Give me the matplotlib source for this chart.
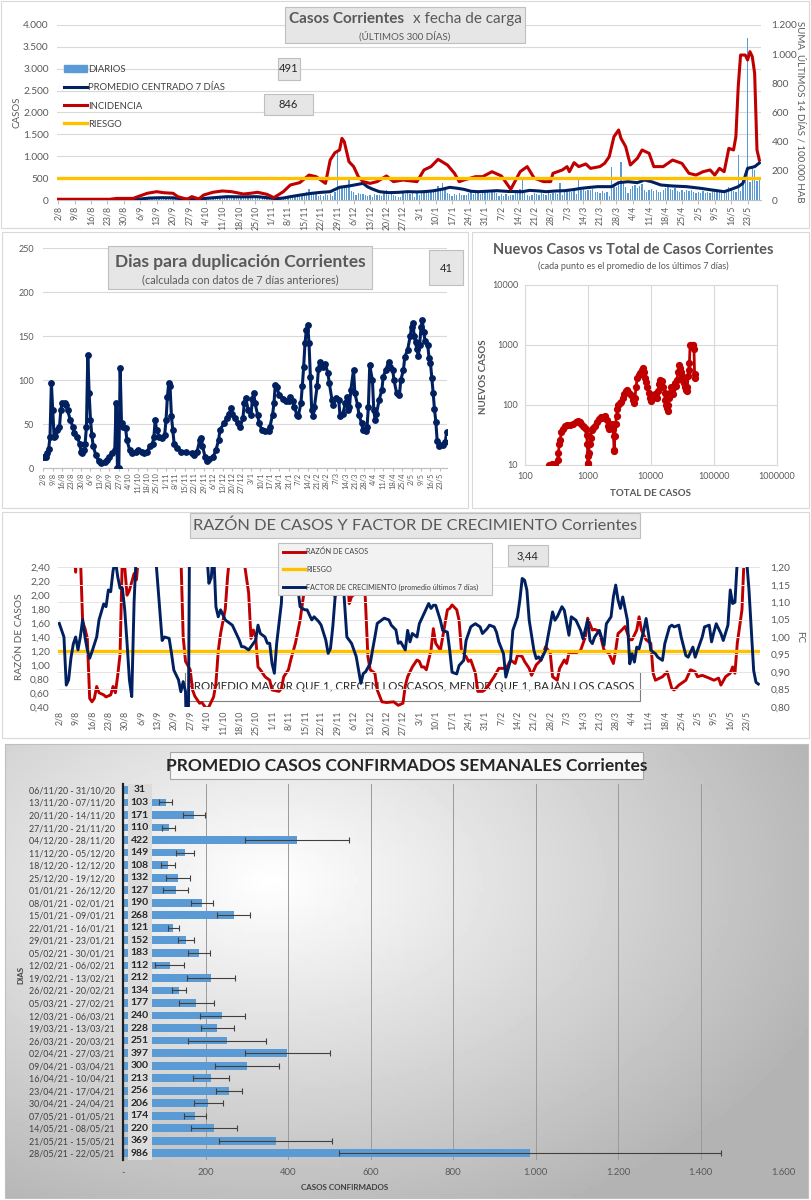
import matplotlib
matplotlib.use("Agg")
import matplotlib.pyplot as plt
import numpy as np
from matplotlib.patches import Rectangle, Patch
from matplotlib.ticker import FuncFormatter

plt.rcParams["font.family"] = ["Lato", "DejaVu Sans"]

W, H = 811, 1200
TXT = "#595959"
ROJO = "#C00000"
AZUL = "#002060"
AMARILLO = "#FFC000"
CELESTE = "#5B9BD5"
GRILLA = "#D9D9D9"

# ---- fechas de eje (una por semana desde 2/8/2020) ----
fechas = ["2/8", "9/8", "16/8", "23/8", "30/8", "6/9", "13/9", "20/9", "27/9",
          "4/10", "11/10", "18/10", "25/10", "1/11", "8/11", "15/11", "22/11",
          "29/11", "6/12", "13/12", "20/12", "27/12", "3/1", "10/1", "17/1",
          "24/1", "31/1", "7/2", "14/2", "21/2", "28/2", "7/3", "14/3", "21/3",
          "28/3", "4/4", "11/4", "18/4", "25/4", "2/5", "9/5", "16/5", "23/5"]

# ---- casos diarios (2/8/2020 .. 28/5/2021) ----
diarios = [0, 1, 0, 2, 0, 0, 1, 0, 0, 1, 0, 2, 1, 0, 1, 0, 0, 3, 2, 1, 0,
           2, 1, 4, 3, 2, 5, 1, 3, 6, 2, 4, 8, 3, 5,
           25, 40, 35, 60, 45, 38, 52, 30, 48, 55, 42, 28, 36, 22,
           18, 25, 12, 8, 15, 10, 6, 12, 20, 14, 30, 25, 18, 35,
           45, 60, 52, 70, 48, 82, 65, 58, 75, 90, 62, 55, 72, 68,
           80, 64, 55, 70, 48, 62, 58, 50, 66, 45, 52, 40, 38,
           22, 18, 35, 28, 40, 30, 44,
           80, 95, 110, 70, 125, 130, 111,
           140, 150, 190, 245, 160, 180, 132,
           95, 120, 85, 140, 105, 130, 95,
           180, 1080, 260, 290, 330, 320, 494,
           210, 180, 120, 150, 130, 145, 108,
           95, 120, 80, 130, 110, 125, 96,
           150, 240, 110, 140, 125, 95, 64,
           80, 150, 140, 165, 130, 160, 64,
           150, 120, 210, 230, 185, 240, 195,
           260, 220, 310, 280, 396, 250, 160,
           140, 90, 130, 110, 150, 115, 112,
           120, 160, 180, 140, 175, 150, 139,
           160, 210, 190, 170, 220, 180, 151,
           90, 130, 100, 140, 95, 120, 109,
           180, 230, 250, 472, 150, 120, 82,
           120, 150, 140, 110, 165, 130, 123,
           150, 140, 160, 170, 130, 381, 108,
           200, 230, 210, 190, 215, 140, 495,
           220, 250, 210, 240, 230, 260, 186,
           190, 160, 210, 150, 190, 97, 760,
           350, 300, 420, 876, 380, 300, 153,
           250, 310, 340, 280, 330, 360, 230,
           180, 240, 260, 200, 230, 190, 191,
           230, 280, 300, 260, 240, 270, 212,
           190, 230, 180, 240, 210, 220, 172,
           150, 190, 160, 200, 170, 180, 168,
           200, 250, 190, 230, 240, 210, 220,
           300, 250, 200, 180, 1028, 200, 425,
           450, 3700, 420, 724, 686, 431, 491]

# promedio centrado 7 dias (dia desde 2/8, casos)
prom_dia = [0, 20, 30, 35, 39, 44, 49, 53, 57, 60, 63, 68, 72, 78, 85, 89, 93, 96,
            99, 104, 108, 112, 116, 118, 120, 124, 128, 130, 132, 134, 137, 141,
            145, 149, 153, 156, 160, 164, 167, 170, 173, 176, 179, 183, 187, 192,
            198, 201, 205, 208, 212, 216, 220, 223, 227, 230, 236, 239, 243, 247,
            250, 253, 257, 262, 268, 274, 278, 281, 284, 287, 290, 292, 294, 297, 299]
prom_val = [0, 3, 8, 23, 45, 53, 50, 25, 15, 20, 38, 60, 76, 72, 76, 53, 30, 45,
            76, 120, 152, 175, 190, 240, 290, 320, 360, 381, 300, 250, 190, 168,
            175, 190, 185, 190, 210, 250, 290, 270, 244, 200, 190, 200, 213, 195,
            190, 220, 206, 190, 205, 213, 240, 267, 290, 305, 305, 396, 419, 396,
            457, 419, 343, 320, 305, 267, 235, 213, 190, 244, 305, 381, 724, 762, 846]

# incidencia: suma ultimos 14 dias / 100.000 hab
inc_dia = [0, 22, 25, 32, 34, 38, 42, 45, 49, 51, 55, 57, 60, 62, 66, 70, 74, 79,
           82, 85, 89, 92, 96, 99, 103, 107, 110, 114, 116, 118, 120, 121, 122,
           124, 126, 128, 130, 133, 136, 140, 143, 147, 153, 156, 159, 162, 166,
           169, 171, 174, 178, 181, 185, 189, 193, 197, 200, 203, 207, 210, 211,
           215, 217, 218, 220, 222, 225, 227, 231, 233, 235, 237, 239, 240, 242,
           244, 247, 249, 252, 254, 258, 262, 266, 269, 272, 275, 278, 280, 282,
           284, 286, 288, 289, 290, 291, 293, 294, 295, 296, 297, 298, 299]
inc_val = [5, 5, 11, 11, 23, 46, 57, 50, 46, 23, 5, 23, 7, 34, 53, 62, 57, 41,
           46, 53, 39, 16, 57, 103, 119, 171, 160, 114, 274, 324, 343, 423, 400,
           263, 229, 160, 126, 114, 126, 165, 126, 137, 126, 206, 229, 279, 240,
           183, 126, 142, 160, 160, 194, 165, 73, 194, 229, 150, 126, 126, 183,
           206, 229, 194, 256, 229, 247, 217, 229, 251, 297, 434, 480, 423, 366,
           240, 286, 343, 320, 229, 229, 274, 251, 183, 171, 194, 206, 171, 217,
           194, 354, 343, 434, 777, 994, 994, 960, 1017, 983, 869, 343, 274]
riesgo_inc = 150

# dias para duplicacion
dup_dia = [0, 1, 2, 3, 4, 5, 6, 7, 8, 9, 10, 12, 13, 14, 16, 17, 18, 20, 22, 23, 25,
           27, 28, 29, 30, 31, 32, 33, 34, 35, 36, 37, 39, 41, 43, 46, 47, 49, 51,
           53, 54, 55, 56, 57, 58, 59, 61, 62, 64, 66, 69, 70, 73, 75, 77, 79, 81,
           82, 83, 84, 86, 88, 90, 91, 92, 93, 94, 95, 96, 97, 99, 102, 106, 110,
           112, 114, 116, 117, 118, 120, 121, 123, 126, 128, 130, 131, 134, 136,
           138, 139, 140, 142, 144, 146, 148, 149, 150, 152, 154, 155, 156, 157,
           159, 160, 162, 164, 167, 168, 170, 171, 172, 173, 175, 178, 180, 182,
           183, 185, 186, 188, 189, 191, 192, 193, 194, 195, 196, 197, 198, 199,
           200, 201, 203, 204, 205, 207, 209, 211, 212, 214, 215, 217, 219, 220,
           222, 224, 225, 226, 227, 228, 230, 231, 233, 234, 236, 237, 239, 240,
           241, 242, 244, 245, 246, 247, 249, 251, 252, 254, 256, 257, 259, 260,
           262, 264, 265, 267, 268, 270, 272, 273, 274, 275, 276, 277, 278, 279,
           280, 281, 282, 283, 285, 286, 287, 288, 289, 290, 291, 292, 293, 294,
           296, 298, 299]
dup_val = [13, 13, 13, 17, 22, 36, 97, 66, 36, 37, 44, 47, 66, 74, 74, 72, 66, 55, 47, 40, 36,
           28, 19, 17, 21, 28, 47, 129, 85, 55, 38, 25, 15, 8, 6, 7, 9, 13, 17,
           21, 74, 0, 0, 114, 51, 47, 46, 32, 21, 17, 19, 21, 19, 17, 19, 25, 28,
           36, 55, 43, 36, 34, 38, 55, 81, 97, 93, 59, 44, 28, 23, 19, 18, 17,
           15, 19, 32, 34, 25, 13, 8, 10, 13, 21, 32, 44, 51, 57,
           62, 68, 62, 57, 51, 47, 57, 74, 80, 66, 60, 79, 85, 74,
           60, 51, 44, 42, 42, 47, 61, 74, 95, 92, 83, 79, 76, 76,
           81, 76, 70, 61, 59, 74, 93, 115, 142, 157, 163, 142, 104, 66,
           59, 70, 93, 113, 121, 115, 119, 108, 97, 78, 72, 80, 78, 59,
           62, 74, 81, 66, 70, 89, 112, 85, 72, 61, 51, 44, 42, 47,
           70, 117, 100, 66, 55, 62, 78, 89, 104, 112, 121, 115, 112, 100,
           85, 83, 100, 112, 127, 134, 150, 161, 165, 150, 143, 135, 128, 140,
           160, 168, 155, 145, 140, 125, 120, 103, 86, 67, 53, 31, 25, 26,
           27, 30, 41]

# nuevos casos vs total (promedio 7 dias)
total_casos = [240, 255, 270, 300, 330, 340, 350, 360, 380, 400, 430, 470, 520, 580,
               640, 690, 740, 790, 840, 880, 920, 950, 980, 995, 1000, 1010, 1030,
               1060, 1100, 1150, 1200, 1300, 1400, 1500, 1600, 1700, 1800, 1900,
               2000, 2100, 2200, 2300, 2400, 2500, 2550, 2600, 2620, 2680, 2750,
               2850, 2950, 3050, 3200, 3400, 3600, 3800, 4000, 4200, 4400, 4700,
               5000, 5200, 5400, 5600, 5800, 6100, 6400, 6800, 7200, 7500, 7700,
               8000, 8300, 8700, 9200, 9700, 10200, 10800, 11500, 12000, 12500,
               13000, 13500, 14200, 15000, 15800, 16500, 17000, 17500, 18000,
               18500, 19000, 19500, 20000, 20800, 21600, 22400, 23200, 24000,
               25000, 26000, 27000, 28000, 29000, 30000, 31000, 32000, 33000,
               34000, 35000, 36000, 37000, 38000, 39000, 40000, 41000, 42000,
               44000, 46000, 47500, 48500, 49500, 50000]
nuevos_casos = [10, 10, 10.5, 10.5, 12, 16, 22, 26, 35, 40, 44, 46, 46, 48,
                52, 54, 52, 48, 44, 43, 40, 32, 22, 14, 10.5, 11, 16,
                22, 28, 38, 42, 45, 52, 58, 62, 60, 64, 66,
                56, 45, 40, 44, 48, 40, 30, 18, 17, 30, 48,
                65, 85, 100, 108, 112, 130, 150, 170, 175, 165, 150,
                140, 120, 110, 130, 200, 280, 320, 340, 380, 420, 360,
                280, 240, 200, 160, 130, 115, 130, 150, 140, 130,
                170, 220, 260, 250, 200, 160, 120, 100, 90,
                80, 100, 130, 160, 200, 180, 150, 200, 230,
                210, 260, 350, 460, 420, 350, 300, 280, 250,
                230, 200, 180, 170, 200, 300, 380, 500, 1000,
                1000, 990, 1000, 850, 330, 280]

# razon de casos
rz_dia = [0, 5, 6, 7, 8, 9, 10, 11, 12, 13, 14, 15, 16, 17, 19, 20, 22, 23, 24, 25,
          26, 27, 28, 29, 30, 32, 33, 34, 36, 40, 45, 50, 52, 53, 54, 56, 57, 58,
          60, 61, 63, 64, 66, 67, 68, 69, 71, 72, 73, 75, 78, 79, 81, 82, 83, 84,
          85, 86, 88, 90, 91, 94, 95, 96, 98, 99, 101, 103, 104, 105, 106, 110,
          115, 117, 118, 119, 121, 123, 124, 125, 127, 129, 130, 131, 132, 133,
          135, 136, 138, 140, 143, 145, 147, 148, 149, 151, 153, 154, 155, 156,
          157, 159, 160, 161, 163, 164, 166, 167, 168, 170, 171, 172, 174, 175,
          176, 178, 179, 181, 182, 184, 186, 188, 191, 192, 193, 195, 196, 198,
          199, 201, 202, 204, 206, 208, 210, 211, 213, 214, 216, 217, 218, 221,
          223, 225, 226, 228, 229, 231, 233, 235, 237, 238, 239, 240, 242, 244,
          245, 247, 248, 249, 251, 253, 254, 255, 258, 260, 262, 263, 265, 268,
          270, 272, 273, 275, 278, 280, 282, 283, 285, 287, 288, 289, 290, 292,
          293, 295, 297, 298, 299]
rz_val = [4.5, 3.5, 2.8, 2.33, 3.2, 2.6, 1.62, 1.52, 1.38, 0.52, 0.47, 0.52, 0.69, 0.6,
          0.57, 0.54, 0.57, 0.69, 0.6, 0.85, 1.15, 2.6, 2.4, 2.0, 2.07, 2.31, 2.22,
          2.6, 3.5, 4.0, 4.5, 3.5, 2.6, 1.4, 1.05, 0.93, 0.64, 0.55, 0.45, 0.46,
          0.37, 0.4, 0.54, 0.73, 1.2, 1.45, 1.8, 2.27, 2.6, 3.5, 3.0, 2.5, 2.03,
          1.38, 1.5, 1.4, 0.97, 0.93, 0.83, 0.78, 0.64, 0.62, 0.66, 0.83, 0.93,
          1.07, 1.31, 1.64, 1.88, 2.12, 2.6, 3.5, 3.0, 2.05, 1.98, 2.6, 3.0, 2.5,
          1.88, 1.98, 2.03, 2.17, 2.6, 1.88, 1.12, 0.93, 0.88, 0.64, 0.47, 0.46,
          0.47, 0.42, 0.45, 0.7, 0.83, 0.97, 1.07, 1.05, 0.97, 0.97, 0.93, 1.21,
          1.52, 1.31, 1.21, 1.4, 1.79, 1.81, 1.86, 1.79, 1.64, 1.21, 1.12, 1.05,
          1.07, 0.88, 0.62, 0.62, 0.64, 0.73, 0.83, 0.95, 0.95, 1.0, 1.07, 1.02,
          1.14, 1.12, 1.05, 0.95, 0.85, 1.0, 1.07, 1.26, 1.17, 0.83, 0.78, 0.95,
          1.07, 1.02, 1.17, 1.17, 1.21, 1.4, 1.67, 1.5, 1.51, 1.48, 1.21, 1.17,
          1.02, 1.21, 1.45, 1.48, 1.55, 1.36, 1.36, 1.5, 1.69, 1.5, 1.36, 1.31,
          0.88, 0.78, 0.83, 0.9, 0.66, 0.64, 0.71, 0.78, 0.93, 0.9, 0.83, 0.85,
          0.81, 0.78, 0.81, 0.71, 0.83, 0.88, 0.97, 0.88, 1.31, 1.79, 2.6, 3.5,
          4.0, 3.8, 3.44]
riesgo_rz = 1.2

# factor de crecimiento (promedio ultimos 7 dias)
fc_dia = [0, 2, 3, 4, 5, 6, 7, 8, 9, 10, 11, 12, 13, 14, 16, 17, 19, 20, 21, 22, 23,
          24, 25, 26, 27, 28, 29, 30, 31, 32, 33, 35, 38, 41, 43, 44, 45, 47, 48,
          49, 51, 52, 53, 54, 55, 56, 60, 63, 64, 65, 66, 67, 68, 69, 71, 72, 74,
          75, 77, 78, 79, 81, 82, 84, 85, 86, 88, 89, 90, 91, 92, 93, 94, 95, 96,
          98, 100, 101, 103, 104, 105, 106, 108, 109, 111, 112, 114, 115, 116,
          117, 118, 119, 120, 122, 123, 125, 127, 129, 130, 131, 133, 134, 135,
          136, 138, 139, 141, 142, 144, 145, 146, 148, 149, 150, 151, 153, 154,
          156, 157, 158, 159, 160, 161, 163, 164, 166, 167, 168, 170, 171, 173,
          174, 176, 177, 178, 180, 181, 183, 184, 186, 187, 188, 190, 191, 193,
          194, 196, 197, 198, 199, 200, 201, 203, 204, 205, 206, 208, 209, 211,
          212, 213, 215, 216, 218, 219, 221, 223, 224, 226, 227, 228, 229, 231,
          233, 234, 236, 237, 238, 239, 240, 241, 243, 244, 245, 246, 247, 248,
          250, 251, 252, 253, 255, 256, 258, 259, 261, 262, 263, 265, 266, 268,
          269, 271, 272, 273, 275, 276, 278, 279, 280, 281, 283, 284, 286, 287,
          288, 289, 290, 291, 293, 294, 295, 297, 298, 299]
fc_val = [1.039, 1.0, 0.862, 0.877, 0.94, 0.98, 1.0, 0.963, 1.0, 1.05, 1.0, 0.963,
          0.939, 0.958, 1.0, 1.049, 1.095, 1.087, 1.135, 1.13, 1.19, 1.22, 1.173,
          1.14, 1.14, 1.078, 0.982, 0.877, 0.829, 1.1, 1.25, 1.35, 1.4, 1.25,
          1.078, 0.99, 1.0, 0.996, 0.953, 0.905, 0.877, 0.843, 0.872, 0.843, 0.5,
          1.6, 1.5, 1.25, 1.154, 1.17, 1.25, 1.087, 1.058, 1.078, 1.049, 1.044,
          1.034, 1.02, 0.991, 0.972, 0.972, 0.963, 0.972, 0.991, 1.034, 1.01, 1.0,
          0.982, 0.982, 0.924, 0.896, 0.982, 1.039, 1.097, 1.25, 1.35, 1.3, 1.2,
          1.087, 1.082, 1.078, 1.078, 1.049, 1.058, 1.044, 1.034, 0.991, 0.953,
          0.967, 1.03, 1.116, 1.25, 1.3, 1.1, 1.0, 0.982, 0.944, 0.867, 0.895,
          0.9, 0.924, 0.963, 1.0, 1.039, 1.049, 1.054, 1.049, 1.034, 1.02, 0.982,
          0.986, 0.963, 1.019, 0.986, 1.01, 1.0, 1.038, 1.067, 1.082, 1.096,
          1.082, 1.091, 1.091, 1.048, 1.019, 1.014, 0.962, 0.899, 0.894, 0.918,
          0.933, 0.99, 1.029, 1.034, 1.038, 1.029, 1.01, 1.024, 1.034, 1.029,
          1.014, 0.986, 0.952, 0.885, 0.933, 1.019, 1.058, 1.106, 1.168, 1.163,
          1.135, 1.048, 0.962, 0.938, 0.943, 0.933, 0.962, 1.0, 1.072, 1.048,
          1.058, 1.087, 1.077, 1.005, 1.058, 1.048, 1.019, 0.995, 1.048, 0.99,
          0.981, 1.0, 1.019, 0.976, 1.038, 1.058, 1.115, 1.149, 1.106, 1.082,
          1.115, 1.048, 0.923, 0.952, 0.928, 0.971, 0.966, 1.019, 1.053, 1.01,
          0.962, 0.952, 0.942, 0.933, 0.981, 1.029, 1.034, 1.029, 1.034, 1.0,
          0.947, 0.942, 0.971, 0.942, 0.962, 1.0, 1.029, 1.034, 0.986, 1.014,
          1.038, 1.01, 0.99, 1.034, 1.135, 1.096, 1.1, 1.22, 1.35, 1.3, 1.22,
          1.135, 0.904, 0.87, 0.865]

# promedio semanal
semanas = ["06/11/20 - 31/10/20", "13/11/20 - 07/11/20", "20/11/20 - 14/11/20",
           "27/11/20 - 21/11/20", "04/12/20 - 28/11/20", "11/12/20 - 05/12/20",
           "18/12/20 - 12/12/20", "25/12/20 - 19/12/20", "01/01/21 - 26/12/20",
           "08/01/21 - 02/01/21", "15/01/21 - 09/01/21", "22/01/21 - 16/01/21",
           "29/01/21 - 23/01/21", "05/02/21 - 30/01/21", "12/02/21 - 06/02/21",
           "19/02/21 - 13/02/21", "26/02/21 - 20/02/21", "05/03/21 - 27/02/21",
           "12/03/21 - 06/03/21", "19/03/21 - 13/03/21", "26/03/21 - 20/03/21",
           "02/04/21 - 27/03/21", "09/04/21 - 03/04/21", "16/04/21 - 10/04/21",
           "23/04/21 - 17/04/21", "30/04/21 - 24/04/21", "07/05/21 - 01/05/21",
           "14/05/21 - 08/05/21", "21/05/21 - 15/05/21", "28/05/21 - 22/05/21"]
prom_sem = [31, 103, 171, 110, 422, 149, 108, 132, 127, 190, 268, 121, 152, 183, 112,
            212, 134, 177, 240, 228, 251, 397, 300, 213, 256, 206, 174, 220, 369, 986]
err_sem = [10, 16, 26, 16, 126, 22, 17, 29, 31, 27, 40, 13, 19, 26, 34,
           58, 17, 42, 55, 40, 95, 103, 78, 43, 32, 35, 26, 56, 136, 464]


def miles(v, pos):
    return f"{int(round(v)):,}".replace(",", ".")


def coma(v, pos):
    return f"{v:.2f}".replace(".", ",")


def rect_ax(l, t, r, b):
    return [l / W, 1 - b / H, (r - l) / W, (b - t) / H]


fig = plt.figure(figsize=(W / 100, H / 100), dpi=100)


def caja(l, t, r, b, fc="#E7E6E6", ec="#BFBFBF", lw=0.8, z=5):
    fig.add_artist(Rectangle((l / W, 1 - b / H), (r - l) / W, (b - t) / H,
                             transform=fig.transFigure, fc=fc, ec=ec, lw=lw, zorder=z))


def texto(x, y, s, **kw):
    kw.setdefault("ha", "center")
    kw.setdefault("va", "center")
    kw.setdefault("color", TXT)
    kw.setdefault("zorder", 6)
    fig.text(x / W, 1 - y / H, s, **kw)


# marcos de cada grafico
for l, t, r, b in [(1, 1, 809, 228), (2, 232, 468, 508), (472, 232, 809, 508),
                   (2, 512, 809, 738)]:
    caja(l, t, r, b, fc="none", ec=GRILLA, lw=0.8, z=0)

# ================= 1. Casos Corrientes x fecha de carga =================
ax1 = fig.add_axes(rect_ax(57, 25, 760.5, 200))
dias = np.arange(len(diarios))
barras = ax1.bar(dias, diarios, width=0.55, color=CELESTE, zorder=2)
l_prom, = ax1.plot(prom_dia, prom_val, color=AZUL, lw=2.2, zorder=3)
ax1.set_xlim(-0.5, 299.5)
ax1.set_ylim(0, 4000)
ax1.set_yticks(range(0, 4001, 500))
ax1.yaxis.set_major_formatter(FuncFormatter(miles))
ax1.set_xticks(range(0, 7 * len(fechas), 7))
ax1.set_xticklabels(fechas, rotation=90, fontsize=6.3, color=TXT)
ax1.grid(axis="y", color=GRILLA, lw=0.8)
ax1.set_axisbelow(True)
for s in ["top", "right", "left"]:
    ax1.spines[s].set_visible(False)
ax1.spines["bottom"].set_color("#BFBFBF")
ax1.tick_params(axis="y", length=0, labelsize=7.3, labelcolor=TXT, pad=6)
ax1.tick_params(axis="x", length=3, color="#BFBFBF", pad=1)

ax1b = ax1.twinx()
l_inc, = ax1b.plot(inc_dia, inc_val, color=ROJO, lw=2.2)
l_rie = ax1b.axhline(riesgo_inc, color=AMARILLO, lw=2.4)
ax1b.set_ylim(0, 1200)
ax1b.set_yticks(range(0, 1201, 200))
ax1b.yaxis.set_major_formatter(FuncFormatter(miles))
ax1b.tick_params(axis="y", length=0, labelsize=7.3, labelcolor=TXT, pad=8)
for s in ax1b.spines.values():
    s.set_visible(False)

fig.legend([Patch(color=CELESTE), l_prom, l_inc, l_rie],
           ["DIARIOS", "PROMEDIO CENTRADO 7 DÍAS", "INCIDENCIA", "RIESGO"],
           loc="upper left", bbox_to_anchor=(64 / W, 1 - 65 / H), frameon=False,
           fontsize=6.8, handlelength=2.4, handletextpad=0.15, labelspacing=0.98,
           borderpad=0, borderaxespad=0, labelcolor="#404040")

caja(285, 7, 525, 43)
texto(289, 19, "Casos Corrientes", ha="left", fontsize=11, fontweight="bold")
texto(522, 19, "x fecha de carga", ha="right", fontsize=11)
texto(405, 36, "(ÚLTIMOS 300 DÍAS)", fontsize=7)
caja(278, 58, 300, 80)
texto(289, 69, "491", fontsize=8, color="#262626")
caja(264, 94, 313, 115)
texto(288.5, 105, "846", fontsize=8, color="#262626")
texto(17, 112, "CASOS", rotation=90, fontsize=7)
texto(800, 112, "SUMA  ÚLTIMOS 14 DÍAS / 100.000 HAB", rotation=270, fontsize=7)

# ================= 2. Dias para duplicacion =================
ax2 = fig.add_axes(rect_ax(42.6, 248.3, 447.3, 468.3))
ax2.plot(dup_dia, dup_val, color=AZUL, lw=2.2, marker="o", ms=3.9, zorder=3)
ax2.set_xlim(-0.5, 299.5)
ax2.set_ylim(0, 250)
ax2.set_yticks(range(0, 251, 50))
ax2.set_xticks(range(0, 7 * len(fechas), 7))
ax2.set_xticklabels(fechas, rotation=90, fontsize=5.4, color=TXT)
ax2.grid(axis="y", color=GRILLA, lw=0.8)
ax2.set_axisbelow(True)
for s in ["top", "right", "left"]:
    ax2.spines[s].set_visible(False)
ax2.spines["bottom"].set_color("#BFBFBF")
ax2.tick_params(axis="y", length=0, labelsize=6.5, labelcolor=TXT, pad=6)
ax2.tick_params(axis="x", length=2, color="#BFBFBF", pad=1)

caja(108, 246, 372, 289)
texto(240, 262, "Dias para duplicación Corrientes", fontsize=12.5, fontweight="bold")
texto(240, 280, "(calculada con datos de 7 días anteriores)", fontsize=7.8)
caja(429, 250, 463, 285)
texto(446, 268, "41", fontsize=8, color="#262626")

# ================= 3. Nuevos casos vs total =================
ax3 = fig.add_axes(rect_ax(525, 285, 776.7, 465))
ax3.plot(total_casos, nuevos_casos, color=ROJO, lw=2, marker="o", ms=4.2, zorder=3)
ax3.set_xscale("log")
ax3.set_yscale("log")
ax3.set_xlim(100, 1e6)
ax3.set_ylim(10, 1e4)
ax3.set_xticks([100, 1000, 10000, 100000, 1000000])
ax3.set_yticks([10, 100, 1000, 10000])
ax3.minorticks_off()
fmt_int = FuncFormatter(lambda v, p: f"{int(round(v))}")
ax3.xaxis.set_major_formatter(fmt_int)
ax3.yaxis.set_major_formatter(fmt_int)
ax3.grid(color=GRILLA, lw=0.8)
ax3.set_axisbelow(True)
for s in ax3.spines.values():
    s.set_color(GRILLA)
ax3.tick_params(length=0, labelsize=6.5, labelcolor=TXT, pad=5)
texto(633, 250, "Nuevos Casos vs Total de Casos Corrientes", fontsize=10.5, fontweight="bold")
texto(633, 266, "(cada punto es el promedio de los últimos 7 días)", fontsize=6.5)
texto(484, 377, "NUEVOS CASOS", rotation=90, fontsize=7, fontweight="bold")
texto(650, 493, "TOTAL DE CASOS", fontsize=7, fontweight="bold")

# ================= 4. Razon de casos y factor de crecimiento =================
ax4 = fig.add_axes(rect_ax(58.1, 567.3, 759.5, 706.7))
l_rz, = ax4.plot(rz_dia, rz_val, color=ROJO, lw=2.1, zorder=3)
l_rrz = ax4.axhline(riesgo_rz, color=AMARILLO, lw=2.4, zorder=4)
ax4.set_xlim(-0.5, 299.5)
ax4.set_ylim(0.4, 2.4)
ax4.set_yticks(np.arange(0.4, 2.41, 0.2))
ax4.yaxis.set_major_formatter(FuncFormatter(coma))
ax4.set_xticks(range(0, 7 * len(fechas), 7))
ax4.set_xticklabels(fechas, rotation=90, fontsize=6.3, color=TXT)
for s in ax4.spines.values():
    s.set_visible(False)
ax4.tick_params(axis="y", length=0, labelsize=7.3, labelcolor=TXT, pad=6)
ax4.tick_params(axis="x", length=0, pad=3)
ax4.add_patch(Rectangle((185 / W, 1 - 701 / H), 455 / W, 29 / H, transform=fig.transFigure,
                        fc="none", ec="#7F7F7F", lw=0.8, clip_on=False, zorder=1))
ax4.text(411 / W, 1 - 687 / H, "PROMEDIO MAYOR QUE 1, CRECEN LOS CASOS, MENOR QUE 1, BAJAN LOS CASOS",
         transform=fig.transFigure, ha="center", va="center", fontsize=8.3,
         color="#262626", zorder=1)

ax4b = ax4.twinx()
l_fc, = ax4b.plot(fc_dia, fc_val, color=AZUL, lw=2.1)
ax4b.set_ylim(0.8, 1.2)
ax4b.set_yticks(np.arange(0.8, 1.201, 0.05))
ax4b.yaxis.set_major_formatter(FuncFormatter(coma))
ax4b.grid(axis="y", color="#E4E4E4", lw=0.7)
ax4b.tick_params(axis="y", length=0, labelsize=7.3, labelcolor=TXT, pad=8)
for s in ax4b.spines.values():
    s.set_visible(False)

caja(190, 513, 640, 538)
texto(415, 526, "RAZÓN DE CASOS Y FACTOR DE CRECIMIENTO Corrientes", fontsize=11.8)
caja(278, 543, 492, 595, fc="#F2F2F2")
fig.legend([l_rz, l_rrz, l_fc],
           ["RAZÓN DE CASOS", "RIESGO", "FACTOR DE CRECIMIENTO (promedio últimos 7 días)"],
           loc="upper left", bbox_to_anchor=(283 / W, 1 - 548 / H), frameon=False,
           fontsize=5.2, handlelength=3.0, handletextpad=0.2, labelspacing=1.45,
           borderpad=0, borderaxespad=0, labelcolor="#404040")
caja(508, 545, 548, 566)
texto(528, 556, "3,44", fontsize=8, color="#262626")
texto(20, 637, "RAZÓN DE CASOS", rotation=90, fontsize=7.3)
texto(800, 637, "FC", rotation=270, fontsize=7)

# ================= 5. Promedio casos confirmados semanales =================
bg = fig.add_axes(rect_ax(5, 744, 808, 1198))
gx, gy = np.meshgrid(np.linspace(0, 1, 200), np.linspace(0, 1, 120))
dist = np.sqrt(((gx - 0.33) * 1.0) ** 2 + ((gy - 0.3) * 0.9) ** 2)
bg.imshow(1 - 0.30 * np.clip(dist / 0.75, 0, 1), cmap="gray", vmin=0, vmax=1,
          extent=[0, 1, 0, 1], aspect="auto", origin="upper")
bg.set_axis_off()
caja(5, 744, 808, 1198, fc="none", ec="#BFBFBF", lw=0.8, z=1)

ax5 = fig.add_axes(rect_ax(123.3, 783.7, 783.3, 1159.6))
ax5.patch.set_alpha(0)
pos = np.arange(len(semanas))
ax5.barh(pos, prom_sem, height=0.62, color=CELESTE, xerr=err_sem, zorder=2,
         error_kw=dict(ecolor="#404040", elinewidth=0.8, capsize=2.0, capthick=0.8))
ax5.add_patch(Rectangle((12, -0.5), 57, len(semanas), fc="#DCDCDC", ec="none", zorder=4))
for i, v in enumerate(prom_sem):
    ax5.text(40, i, str(v), ha="center", va="center", fontsize=7.5,
             fontweight="bold", color="#262626", zorder=5)
ax5.set_ylim(len(semanas) - 0.5, -0.5)
ax5.set_xlim(0, 1600)
ax5.set_yticks(pos)
ax5.set_yticklabels(semanas, fontsize=6.4, color="#404040")
ax5.set_xticks(range(0, 1601, 200))
ax5.xaxis.set_major_formatter(FuncFormatter(lambda v, p: "-" if v == 0 else miles(v, p)))
ax5.grid(axis="x", color="#9A9A9A", lw=0.7)
ax5.set_axisbelow(True)
for s in ["top", "right", "bottom"]:
    ax5.spines[s].set_visible(False)
ax5.spines["left"].set_color("#1F1F1F")
ax5.spines["left"].set_linewidth(1.6)
ax5.tick_params(axis="y", length=0, pad=6)
ax5.tick_params(axis="x", length=0, labelsize=6.8, labelcolor=TXT, pad=6)

caja(170, 752, 643, 779, fc="#F7F7F7", ec="#A6A6A6", z=6)
texto(407, 766, "PROMEDIO CASOS CONFIRMADOS SEMANALES Corrientes", fontsize=12.5,
      fontweight="bold", color="#262626", zorder=7)
texto(21, 975, "DIAS", rotation=90, fontsize=5.8, fontweight="bold", color="#404040")
texto(345, 1188, "CASOS CONFIRMADOS", fontsize=5.8, fontweight="bold", color="#404040")

fig.savefig("out.png", dpi=100)
